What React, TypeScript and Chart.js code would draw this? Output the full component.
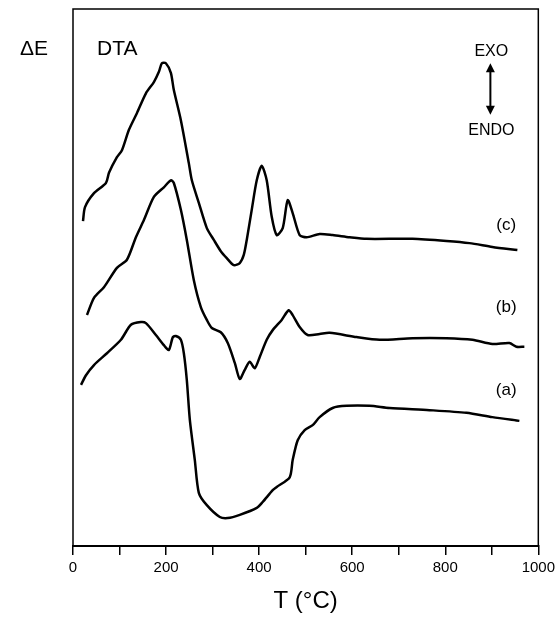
import React, { useEffect, useRef } from 'react';
import { Chart, registerables } from 'chart.js';

Chart.register(...registerables);

// Temperature (°C) and DTA signal (arbitrary units) for the three samples
const tempC = [21.5, 25.8, 45.1, 70.8, 77.3, 94.4, 105.2, 120.2, 137.3, 156.7, 173.8, 184.6, 191.0, 199.6, 210.3, 216.7, 231.8, 248.9, 255.4, 270.4, 287.6, 302.6, 317.6, 330.5, 345.5, 358.4, 367.0, 373.4, 384.1, 394.9, 405.6, 416.3, 427.1, 437.8, 450.7, 461.4, 472.1, 487.1, 502.2, 530.1, 558.0, 594.4, 630.9, 729.6, 802.6, 852.0, 901.3, 955.0];
const dtaC = [60.5, 63.1, 65.7, 67.6, 69.5, 72.4, 73.7, 77.5, 80.6, 84.3, 86.4, 88.3, 89.9, 89.9, 88.1, 84.9, 79.3, 71.3, 68.1, 63.9, 59.2, 57.0, 54.9, 53.6, 52.3, 52.7, 54.2, 57.0, 62.6, 68.1, 70.8, 68.1, 61.3, 57.9, 59.2, 64.4, 62.0, 57.9, 57.5, 58.1, 57.9, 57.5, 57.2, 57.2, 56.8, 56.4, 55.7, 55.1];

const tempB = [30.0, 45.1, 66.5, 94.4, 115.9, 135.2, 152.4, 173.8, 195.3, 210.3, 216.7, 231.8, 244.6, 259.7, 274.7, 287.6, 298.3, 317.6, 332.6, 347.7, 358.4, 369.1, 379.8, 390.6, 401.3, 416.3, 429.2, 448.5, 463.5, 472.1, 487.1, 504.3, 530.1, 551.5, 609.5, 658.8, 729.6, 802.6, 858.4, 901.3, 937.8, 952.8, 970.0];
const dtaB = [43.0, 46.2, 48.2, 51.8, 53.3, 57.5, 60.7, 65.0, 66.8, 68.1, 67.6, 62.6, 57.0, 49.5, 44.5, 42.1, 40.6, 39.8, 37.8, 34.1, 31.1, 32.8, 34.3, 33.1, 35.2, 38.4, 40.2, 42.1, 43.9, 43.0, 40.8, 39.3, 39.5, 39.7, 38.9, 38.4, 38.7, 38.7, 38.4, 37.6, 37.8, 37.1, 37.1];

const tempA = [17.2, 27.9, 45.1, 73.0, 103.0, 124.5, 145.9, 156.7, 178.1, 195.3, 206.0, 214.6, 221.0, 231.8, 238.2, 244.6, 251.1, 261.8, 270.4, 287.6, 315.5, 332.6, 358.4, 394.9, 407.7, 429.2, 437.8, 465.7, 472.1, 482.9, 497.9, 515.0, 530.1, 558.0, 588.0, 637.4, 680.3, 766.1, 845.5, 901.3, 959.3];
const dtaA = [30.0, 31.8, 33.7, 35.9, 38.4, 41.2, 41.7, 41.5, 39.3, 37.4, 36.5, 38.9, 39.1, 38.4, 35.9, 30.9, 23.5, 16.0, 9.9, 7.6, 5.4, 5.2, 5.8, 7.1, 8.2, 10.4, 11.0, 12.8, 16.0, 19.7, 21.6, 22.5, 24.0, 25.7, 26.1, 26.1, 25.7, 25.3, 24.8, 24.0, 23.3];

const curveLabels = ['(a)', '(b)', '(c)'];
const curveLabelT = 931;
const curveLabelE = [29.0, 44.5, 59.8];

const xTickStep = 100;
const xMin = 0;
const xMax = 1000;

const FONT = "'Liberation Sans', Arial, Helvetica, sans-serif";

const toPoints = (xs: number[], ys: number[]) => xs.map((x, i) => ({ x, y: ys[i] }));

const annotations = {
  id: 'dtaAnnotations',
  afterDraw(chart: any) {
    const { ctx, chartArea, scales } = chart;
    const xs = scales.x;
    const ys = scales.y;
    ctx.save();
    // frame
    ctx.strokeStyle = '#000';
    ctx.lineWidth = 1.5;
    ctx.strokeRect(chartArea.left, chartArea.top, chartArea.right - chartArea.left, chartArea.bottom - chartArea.top);

    ctx.fillStyle = '#000';
    ctx.textBaseline = 'middle';
    // ΔE and DTA
    ctx.font = `21px ${FONT}`;
    ctx.textAlign = 'center';
    ctx.fillText('ΔE', chartArea.left - 39, chartArea.top + 40);
    ctx.textAlign = 'left';
    ctx.fillText('DTA', chartArea.left + 24, chartArea.top + 40);

    // EXO / ENDO with double arrow
    const ax = xs.getPixelForValue(897);
    ctx.font = `16px ${FONT}`;
    ctx.textAlign = 'center';
    ctx.fillText('EXO', xs.getPixelForValue(899), ys.getPixelForValue(92.0));
    ctx.fillText('ENDO', xs.getPixelForValue(899), ys.getPixelForValue(77.3));
    const yTop = ys.getPixelForValue(89.9);
    const yBot = ys.getPixelForValue(80.3);
    ctx.lineWidth = 2;
    ctx.beginPath();
    ctx.moveTo(ax, yTop + 5);
    ctx.lineTo(ax, yBot - 5);
    ctx.stroke();
    ctx.beginPath();
    ctx.moveTo(ax, yTop);
    ctx.lineTo(ax - 4.5, yTop + 9);
    ctx.lineTo(ax + 4.5, yTop + 9);
    ctx.closePath();
    ctx.fill();
    ctx.beginPath();
    ctx.moveTo(ax, yBot);
    ctx.lineTo(ax - 4.5, yBot - 9);
    ctx.lineTo(ax + 4.5, yBot - 9);
    ctx.closePath();
    ctx.fill();

    // curve labels
    ctx.font = `17px ${FONT}`;
    curveLabels.forEach((lab, i) => {
      ctx.fillText(lab, xs.getPixelForValue(curveLabelT), ys.getPixelForValue(curveLabelE[i]));
    });
    ctx.restore();
  },
};

export default function App() {
  const ref = useRef<HTMLCanvasElement | null>(null);

  useEffect(() => {
    if (!ref.current) return;
    const lineStyle = {
      borderColor: '#000',
      borderWidth: 2.5,
      pointRadius: 0,
      tension: 0.25,
      fill: false,
    };
    const chart = new Chart(ref.current, {
      type: 'line',
      data: {
        datasets: [
          { label: '(a)', data: toPoints(tempA, dtaA), ...lineStyle },
          { label: '(b)', data: toPoints(tempB, dtaB), ...lineStyle },
          { label: '(c)', data: toPoints(tempC, dtaC), ...lineStyle },
        ],
      },
      options: {
        responsive: false,
        animation: false,
        layout: { padding: { left: 73, right: 20, top: 9, bottom: 0 } },
        plugins: { legend: { display: false }, tooltip: { enabled: false } },
        scales: {
          x: {
            type: 'linear',
            min: xMin,
            max: xMax,
            afterFit: (scale: any) => {
              scale.height = 72;
            },
            border: { color: '#000', width: 2 },
            grid: {
              drawOnChartArea: false,
              drawTicks: true,
              tickLength: 9,
              color: '#000',
              lineWidth: 1.5,
            },
            ticks: {
              stepSize: xTickStep,
              autoSkip: false,
              maxRotation: 0,
              padding: 4,
              color: '#000',
              font: { family: FONT, size: 15 },
              callback: (v: any) => (Number(v) % 200 === 0 ? String(v) : ''),
            },
            title: {
              display: true,
              text: 'T (°C)',
              color: '#000',
              font: { family: FONT, size: 24 },
              padding: { top: 0, bottom: 2 },
            },
          },
          y: {
            type: 'linear',
            display: false,
            min: 0,
            max: 100,
          },
        },
      },
      plugins: [annotations],
    });
    return () => chart.destroy();
  }, []);

  return (
    <div style={{ position: 'absolute', left: 0, top: 0, width: 559, height: 618, background: '#fff' }}>
      <canvas ref={ref} width={559} height={618} style={{ display: 'block' }} />
    </div>
  );
}
